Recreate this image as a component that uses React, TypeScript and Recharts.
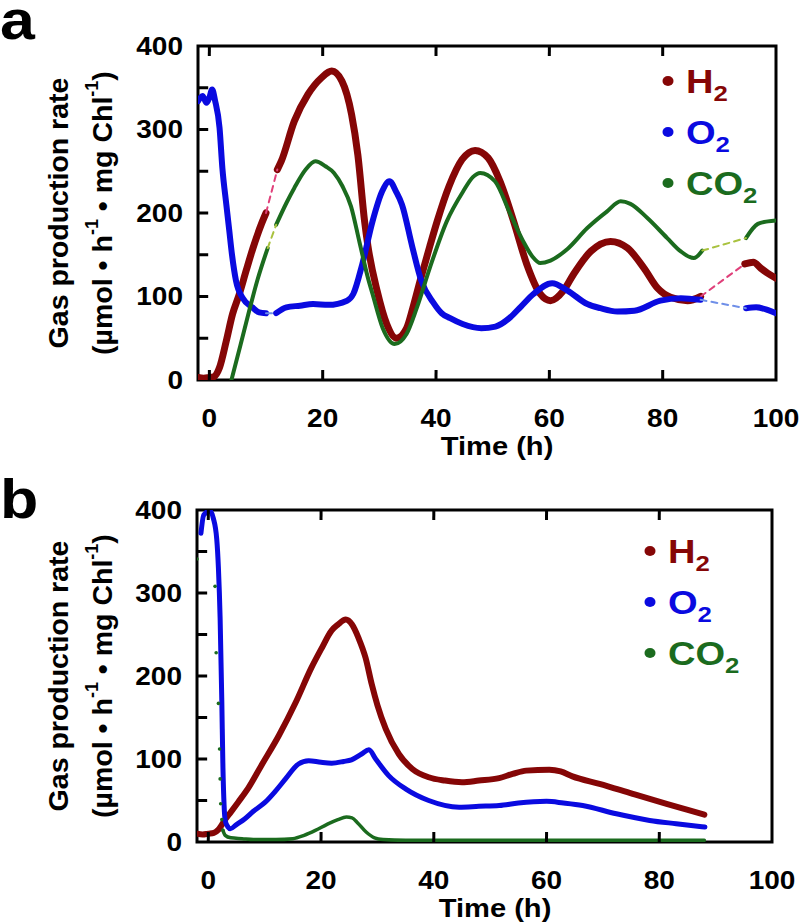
import { ComposedChart, Line, XAxis, YAxis, ReferenceArea } from 'recharts'

type Pt = [number, number]

// ---- panel a: [time h, rate] ----
const aH2Early: Pt[] = [[-2, 3], [-1, 2], [0, 3], [0.8, 4], [1.8, 15], [3, 47], [4.1, 79], [5.3, 103], [6.5, 131], [7.7, 158], [9.2, 187], [10, 200]]
const aH2Gap1: Pt[] = [[10, 200], [12, 252]]
const aH2Mid: Pt[] = [
  [12, 252], [12.7, 262], [15, 310], [17.4, 342], [19.8, 362], [21.6, 370], [23.4, 358], [25.1, 318], [26.2, 270], [27.4, 190],
  [28, 160], [29.6, 107], [31.3, 67], [33, 50], [34.8, 62], [35.9, 86], [37.2, 119], [38.9, 160], [40.2, 190], [42.3, 232],
  [44.6, 264], [46.9, 275], [49.2, 266], [51.3, 238], [53.7, 190], [56, 139], [58.4, 103], [60.2, 95], [62.5, 107], [64.3, 127],
  [67.3, 154], [70.8, 166], [73.8, 158], [76.7, 134], [79.1, 110], [81.4, 99], [84.4, 95], [86.7, 100],
]
const aH2Gap2: Pt[] = [[86.7, 100], [94.5, 139]]
const aH2Late: Pt[] = [[94.5, 139], [96, 141], [97.3, 134], [98.5, 128], [100, 122]]

const aO2Early: Pt[] = [[-2, 334], [-1.2, 340], [-0.5, 332], [0, 338], [0.5, 348], [1, 335], [1.8, 302], [2.3, 254], [3, 210], [3.5, 180], [4, 150], [4.7, 119], [5.9, 98], [7.6, 87], [8.8, 81], [10, 80]]
const aO2Gap1: Pt[] = [[10, 80], [11.8, 80]]
const aO2Mid: Pt[] = [
  [11.8, 80], [13.6, 87], [16, 89], [18.3, 91], [21, 90], [24.3, 95], [25.4, 103], [27, 139], [28.8, 190], [30.5, 226],
  [31.8, 238], [33, 225], [34, 210], [35.8, 160], [37.4, 119], [39.5, 93], [41, 80], [42.5, 74], [44.7, 67], [48, 62],
  [50.5, 64], [53.1, 75], [55, 88], [57.2, 103], [60.5, 116], [63.2, 107], [66.7, 91], [69, 86], [72, 82], [75, 83],
  [79.6, 95], [83.2, 98], [86.7, 96],
]
const aO2Gap2: Pt[] = [[86.7, 96], [94.7, 86]]
const aO2Late: Pt[] = [[94.7, 86], [96.5, 87], [98.5, 84], [100, 80]]

const aCO2Early: Pt[] = [[3.9, 0], [5.5, 42], [7, 82], [8.5, 120], [10.3, 158]]
const aCO2Gap1: Pt[] = [[10.3, 158], [11.8, 186]]
const aCO2Mid: Pt[] = [
  [11.8, 186], [13.6, 212], [15, 230], [17, 252], [18.7, 262], [20.5, 256], [22, 248], [23.5, 232], [25, 208], [26.5, 165],
  [28, 122], [28.8, 103], [30.6, 62], [32.7, 43], [34.8, 55], [36.6, 86], [38.9, 134], [41.9, 190], [44.8, 226], [46.5, 243],
  [47.8, 248], [50.4, 238], [53.1, 199], [55.4, 166], [57, 148], [58.4, 140], [60.2, 143], [63.2, 157], [66.7, 182], [70.2, 202],
  [72.6, 214], [74.3, 211], [77.3, 194], [80.8, 170], [83.2, 154], [85.5, 146], [87, 155],
]
const aCO2Gap2: Pt[] = [[87, 155], [94.7, 170]]
const aCO2Late: Pt[] = [[94.7, 170], [96.8, 187], [98.6, 190], [100, 191]]

// ---- panel b ----
const bH2: Pt[] = [
  [-2, 10], [-1, 9], [0, 10], [1, 11], [1.8, 15], [3, 27], [4, 36], [5.3, 48], [7, 64], [9.4, 92],
  [12.5, 128], [15.5, 168], [18.3, 210], [20, 232], [21.9, 255], [23, 262], [24.4, 268], [25.5, 262], [26.7, 245], [27.9, 222],
  [29, 190], [30, 165], [31.5, 136], [33.8, 106], [36.2, 88], [39.1, 78], [42, 74], [45, 72], [48, 74], [51.6, 77],
  [54, 82], [56.4, 86], [60.5, 87], [62.5, 85], [64.6, 79], [69.4, 70], [75.3, 58], [81.3, 46], [84.9, 39], [88, 33],
]
const bO2: Pt[] = [
  [-1.3, 372], [-0.8, 394], [0.3, 399], [0.9, 390], [1.5, 365], [1.8, 330], [2.1, 270], [2.4, 170], [2.6, 90], [2.8, 45],
  [3, 26], [3.5, 18], [3.9, 16], [5, 21], [6.5, 28], [8, 37], [10.1, 48], [12, 62], [13.7, 76], [16, 94],
  [17.8, 98], [20, 96], [21.9, 95], [24, 97], [25.4, 99], [27.2, 106], [28.5, 111], [29.7, 100], [32, 80], [35, 64],
  [39.1, 50], [44.5, 42], [48, 43], [51.6, 44], [55, 47], [60, 49], [63, 47], [66.4, 44], [72.4, 34], [78.3, 26],
  [83, 22], [88.1, 18],
]
const bCO2Early: Pt[] = [[-2, 341], [1.2, 308], [1.4, 228], [1.8, 167], [2, 112], [2.1, 76], [2.2, 46], [2.4, 27], [2.6, 14]]
const bCO2: Pt[] = [
  [2.6, 14], [3, 8], [4, 5], [6, 4], [8, 3], [12, 3], [15, 4], [17, 8], [19, 14], [21, 21],
  [23, 27], [24.5, 30], [25.5, 29], [26.5, 23], [28, 12], [29.5, 5], [31, 3], [35, 2], [45, 2], [60, 2],
  [75, 2], [88, 2],
]

const xTicks = [0, 20, 40, 60, 80, 100]
const xInnerTicks = [0, 20, 40, 60, 80]
const yTicks = [0, 50, 100, 150, 200, 250, 300, 350, 400]
const yInnerTicks = [50, 100, 150, 200, 250, 300, 350]

const X_MIN = -2
const X_MAX = 100
const Y_MAX = 400
// inward tick marks, in axis units (about 10 px long)
const X_TICK_LEN = 1.8
const Y_TICK_LEN = 12

const H2 = '#850606'
const O2 = '#0a0ae0'
const CO2 = '#1b6b1e'
const H2_GAP = '#e0407a'
const O2_GAP = '#6f8fe8'
const CO2_GAP = '#a9c23f'

const FONT = '"Liberation Sans", Arial, Helvetica, sans-serif'
const SX = 1.12

interface Series {
  data: Pt[]
  color: string
  width: number
  dash?: string
  dotsOnly?: boolean
}

const seriesA: Series[] = [
  { data: aH2Early, color: H2, width: 7 },
  { data: aH2Mid, color: H2, width: 7 },
  { data: aH2Late, color: H2, width: 7 },
  { data: aH2Gap1, color: H2_GAP, width: 2, dash: '6 5' },
  { data: aH2Gap2, color: H2_GAP, width: 2, dash: '6 5' },
  { data: aO2Early, color: O2, width: 6 },
  { data: aO2Mid, color: O2, width: 6 },
  { data: aO2Late, color: O2, width: 6 },
  { data: aO2Gap1, color: O2_GAP, width: 2, dash: '6 5' },
  { data: aO2Gap2, color: O2_GAP, width: 2, dash: '6 5' },
  { data: aCO2Early, color: CO2, width: 4 },
  { data: aCO2Mid, color: CO2, width: 4 },
  { data: aCO2Late, color: CO2, width: 4 },
  { data: aCO2Gap1, color: CO2_GAP, width: 2, dash: '6 5' },
  { data: aCO2Gap2, color: CO2_GAP, width: 2, dash: '6 5' },
]

const seriesB: Series[] = [
  { data: bH2, color: H2, width: 6 },
  { data: bO2, color: O2, width: 5 },
  { data: bCO2, color: CO2, width: 3.5 },
  { data: bCO2Early, color: CO2, width: 0, dotsOnly: true },
]

// inward tick marks as tiny two-point segments on the chart's own scales
const tickSegments: Pt[][] = [
  ...xInnerTicks.map((t): Pt[] => [[t, 0], [t + 0.01, Y_TICK_LEN]]),
  ...xInnerTicks.map((t): Pt[] => [[t, Y_MAX - Y_TICK_LEN], [t + 0.01, Y_MAX]]),
  ...yInnerTicks.map((v): Pt[] => [[X_MIN, v], [X_MIN + X_TICK_LEN, v + 0.05]]),
]

const toRows = (a: Pt[]) => a.map(([t, v]) => ({ t, v }))

const BottomTick = (props: any) => {
  const { x, y, payload } = props
  return (
    <text transform={`translate(${x},${y + 47}) scale(${SX},1)`} textAnchor="middle" fontSize={25} fontWeight="bold" fontFamily={FONT} fill="#000">
      {payload.value}
    </text>
  )
}

const LeftTick = (props: any) => {
  const { x, y, payload } = props
  if (payload.value % 100 !== 0) return <g />
  return (
    <text transform={`translate(${x - 15},${y + 8.5}) scale(${SX},1)`} textAnchor="end" fontSize={25} fontWeight="bold" fontFamily={FONT} fill="#000">
      {payload.value}
    </text>
  )
}

function Overlay({ letter, legendX, legendY, plotMidY, titleX }: { letter: string; legendX: number; legendY: number; plotMidY: number; titleX: number }) {
  const legend = [
    { main: 'H', color: H2 },
    { main: 'O', color: O2 },
    { main: 'CO', color: CO2 },
  ]
  return (
    <svg width={800} height={462} style={{ position: 'absolute', left: 0, top: 0, pointerEvents: 'none' }} fontFamily={FONT} fontWeight="bold">
      <text transform={`translate(0,${letter === 'a' ? 39 : 56}) scale(${SX},1)`} fontSize={56}>
        {letter}
      </text>
      <text transform={`translate(58,${plotMidY}) rotate(-90)`} textAnchor="middle" dominantBaseline="central" fontSize={28.5}>
        Gas production rate
      </text>
      <text transform={`translate(102,${plotMidY}) rotate(-90)`} textAnchor="middle" dominantBaseline="central" fontSize={28.5}>
        (µmol • h<tspan fontSize={18} dy={-10}>-1</tspan>
        <tspan dy={10}> • mg Chl</tspan>
        <tspan fontSize={18} dy={-10}>-1</tspan>
        <tspan dy={10}>)</tspan>
      </text>
      <text transform={`translate(${titleX},455) scale(${SX},1)`} textAnchor="middle" fontSize={26}>
        Time (h)
      </text>
      {legend.map((l, i) => (
        <g key={l.main} fill={l.color}>
          <ellipse cx={legendX} cy={legendY + i * 51} rx={5.5} ry={5} />
          <text transform={`translate(${legendX + 18},${legendY + 12 + i * 51}) scale(${SX},1)`} fontSize={34}>
            {l.main}
            <tspan fontSize={23} dy={8}>2</tspan>
          </text>
        </g>
      ))}
    </svg>
  )
}

function Panel({ series, top, right, left }: { series: Series[]; top: number; right: number; left: number }) {
  return (
    <ComposedChart width={800} height={462} margin={{ top, right, bottom: 0, left: 0 }}>
      <XAxis
        xAxisId="b"
        dataKey="t"
        type="number"
        domain={[X_MIN, X_MAX]}
        allowDataOverflow
        ticks={xTicks}
        interval={0}
        height={82}
        axisLine={false}
        tickLine={false}
        tickSize={0}
        tickMargin={0}
        tick={BottomTick}
      />
      <YAxis
        yAxisId="l"
        dataKey="v"
        type="number"
        domain={[0, Y_MAX]}
        allowDataOverflow
        ticks={yTicks}
        interval={0}
        width={left}
        axisLine={false}
        tickLine={false}
        tickSize={0}
        tickMargin={0}
        tick={LeftTick}
      />
      {series.map((s, i) => (
        <Line
          key={i}
          xAxisId="b"
          yAxisId="l"
          data={toRows(s.data)}
          dataKey="v"
          type="monotone"
          stroke={s.dotsOnly ? 'none' : s.color}
          strokeWidth={s.width}
          strokeDasharray={s.dash}
          strokeLinecap="round"
          dot={s.dotsOnly ? { r: 1.8, fill: s.color, stroke: 'none' } : false}
          activeDot={false}
          isAnimationActive={false}
        />
      ))}
      {tickSegments.map((seg, i) => (
        <Line
          key={`tick${i}`}
          xAxisId="b"
          yAxisId="l"
          data={toRows(seg)}
          dataKey="v"
          type="linear"
          stroke="#000"
          strokeWidth={3}
          dot={false}
          activeDot={false}
          isAnimationActive={false}
        />
      ))}
      <ReferenceArea xAxisId="b" yAxisId="l" x1={X_MIN} x2={X_MAX} y1={0} y2={Y_MAX} fill="none" stroke="#000" strokeWidth={3} ifOverflow="visible" />
    </ComposedChart>
  )
}

export default function App() {
  return (
    <div style={{ position: 'absolute', left: 0, top: 0, width: 800, height: 924, background: '#fff' }}>
      <div style={{ position: 'absolute', left: 0, top: 0, width: 800, height: 462 }}>
        <Panel series={seriesA} top={46} right={24} left={198} />
        <Overlay letter="a" legendX={668} legendY={81} plotMidY={213} titleX={497} />
      </div>
      <div style={{ position: 'absolute', left: 0, top: 462, width: 800, height: 462 }}>
        <Panel series={seriesB} top={48} right={28} left={197} />
        <Overlay letter="b" legendX={650} legendY={89} plotMidY={214} titleX={495} />
      </div>
    </div>
  )
}
